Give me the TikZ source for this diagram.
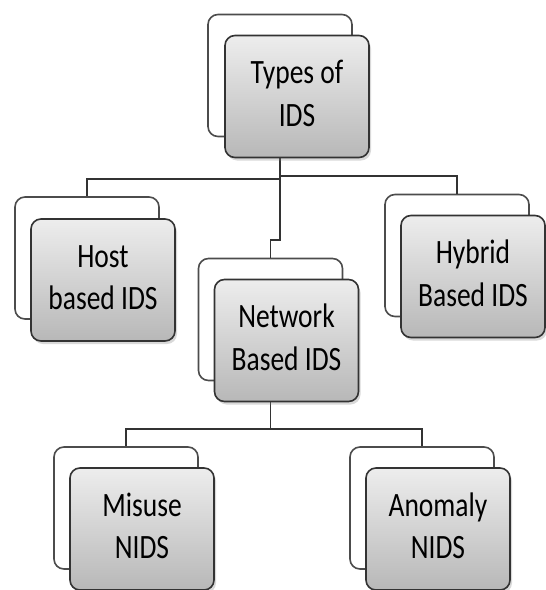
\documentclass[tikz,border=0pt]{standalone}
\usepackage{fontspec}
\setmainfont{Carlito}
\usepackage{graphicx}
\usetikzlibrary{shadows}
\newcommand{\tall}[1]{\scalebox{1}[1.24]{\begin{tabular}{@{}c@{}}#1\end{tabular}}}
\begin{document}
\begin{tikzpicture}[x=1pt,y=-1pt,
  card/.style={draw=black!70,line width=1.6pt,rounded corners=10pt,
    minimum width=144pt,minimum height=122pt,inner sep=0pt},
  back/.style={card,fill=white},
  front/.style={card,draw=black!80,top color=black!7,bottom color=black!28,
    drop shadow={opacity=0.3,shadow xshift=2pt,shadow yshift=-3pt},
    font=\fontsize{27.5}{34.5}\selectfont},
  link/.style={draw=black!80,line width=1.6pt}]
\useasboundingbox (0,0) rectangle (546,590);
% back cards
\node[back] (typesb) at (280,75.5) {};
\node[back] (hostb) at (87,258) {};
\node[back] (netb) at (270.5,319.5) {};
\node[back] (hybridb) at (457,255.5) {};
\node[back] (misuseb) at (126,508) {};
\node[back] (anomalyb) at (422,508) {};
% connectors
\draw[link] (typesb.south) -- (typesb.south |- 0,179) -| (hostb.north);
\draw[link] (typesb.south |- 0,176) -| (hybridb.north);
\draw[link] (typesb.south |- 0,179) -- (typesb.south |- 0,240) -| (netb.north);
\draw[link] (netb.south) -- (netb.south |- 0,429) -| (misuseb.north);
\draw[link] (netb.south |- 0,429) -| (anomalyb.north);
% front cards
\node[front] (types) at ([shift={(17,21)}]typesb.center) {\tall{Types of\\IDS}};
\node[front] (host) at ([shift={(16,22)}]hostb.center) {\tall{Host\\based IDS}};
\node[front] (net) at ([shift={(16,21)}]netb.center) {\tall{Network\\Based IDS}};
\node[front] (hybrid) at ([shift={(16,21)}]hybridb.center) {\tall{Hybrid\\Based IDS}};
\node[front] (misuse) at ([shift={(16,21)}]misuseb.center) {\tall{Misuse\\NIDS}};
\node[front] (anomaly) at ([shift={(16,21)}]anomalyb.center) {\tall{Anomaly\\NIDS}};
\end{tikzpicture}
\end{document}
